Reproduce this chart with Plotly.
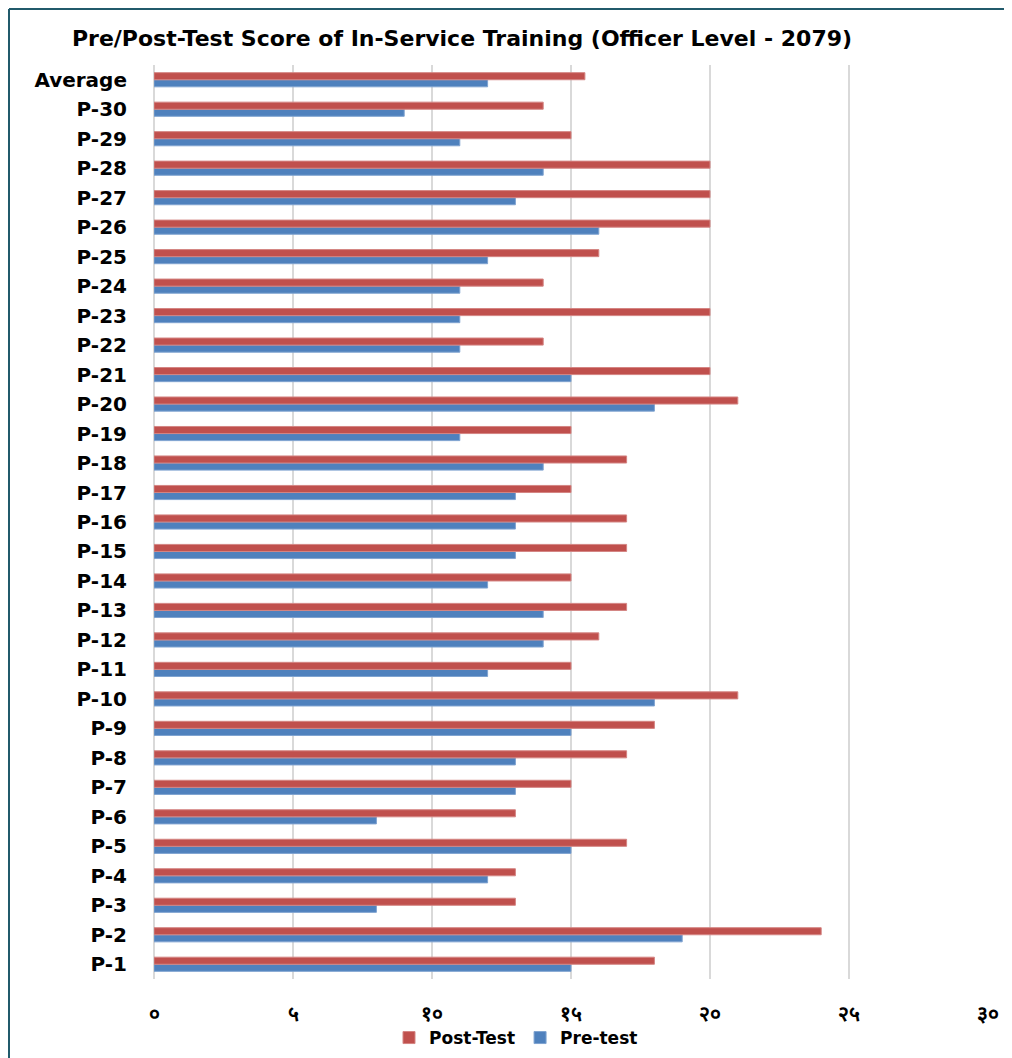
import plotly.graph_objects as go

categories = ["P-1", "P-2", "P-3", "P-4", "P-5", "P-6", "P-7", "P-8", "P-9", "P-10",
              "P-11", "P-12", "P-13", "P-14", "P-15", "P-16", "P-17", "P-18", "P-19", "P-20",
              "P-21", "P-22", "P-23", "P-24", "P-25", "P-26", "P-27", "P-28", "P-29", "P-30",
              "Average"]
post_test = [18, 24, 13, 13, 17, 13, 15, 17, 18, 21,
             15, 16, 17, 15, 17, 17, 15, 17, 15, 21,
             20, 14, 20, 14, 16, 20, 20, 20, 15, 14,
             15.5]
pre_test = [15, 19, 8, 12, 15, 8, 13, 13, 15, 18,
            12, 14, 14, 12, 13, 13, 13, 14, 11, 18,
            15, 11, 11, 11, 12, 16, 13, 14, 11, 9,
            12]
tick_vals = [0, 5, 10, 15, 20, 25, 30]
tick_text = ["०", "५", "१०", "१५", "२०", "२५", "३०"]

# page has an 8px body margin; work in page pixels and shift
OFF = 8
W, H = 1012 - OFF, 1058 - OFF
PL, PR, PT, PB = 154, 988, 65, 979          # plot area in page pixels
L, R, T, B = PL - OFF, W - (PR - OFF), PT - OFF, H - (PB - OFF)
pw, ph = W - L - R, H - T - B

def px(x):
    return (x - OFF - L) / pw

def py(y):
    return (H - B - (y - OFF)) / ph

FONT = "DejaVu Sans, Verdana, sans-serif"

fig = go.Figure()
fig.add_trace(go.Bar(
    y=categories, x=pre_test, name="Pre-test", orientation="h",
    marker=dict(color="#4F81BD", line=dict(color="#7FA3D0", width=1)),
    legendrank=2,
))
fig.add_trace(go.Bar(
    y=categories, x=post_test, name="Post-Test", orientation="h",
    marker=dict(color="#C0504D", line=dict(color="#D48583", width=1)),
    legendrank=1,
))

border = "#215A6B"
fig.update_layout(
    width=W, height=H,
    margin=dict(l=L, r=R, t=T, b=B, autoexpand=False),
    paper_bgcolor="white", plot_bgcolor="white",
    barmode="group", bargap=0.52, bargroupgap=0,
    title=dict(text="<b>Pre/Post-Test Score of In-Service Training (Officer Level - 2079)</b>",
               x=(462 - OFF) / W, xanchor="center", xref="container",
               y=1 - (38 - OFF) / H, yanchor="middle", yref="container",
               font=dict(family=FONT, size=22, color="#000000")),
    font=dict(family=FONT, color="#000000"),
    xaxis=dict(range=[0, 30], tickvals=tick_vals, ticktext=tick_text,
               showgrid=True, gridcolor="#D9D9D9", gridwidth=2,
               zeroline=True, zerolinecolor="#D9D9D9", zerolinewidth=2,
               showline=False, ticks="", ticklabelstandoff=20,
               tickfont=dict(size=21, color="#000000", weight="bold")),
    yaxis=dict(categoryorder="array", categoryarray=categories, type="category",
               showgrid=False, showline=False, ticks="", ticklabelstandoff=26,
               tickfont=dict(size=20, color="#000000", weight="bold")),
    legend=dict(orientation="h", x=(516 - OFF) / W, xanchor="center", xref="container",
                y=1 - (1038 - OFF) / H, yanchor="middle", yref="container",
                font=dict(family=FONT, size=17, color="#000000", weight="bold"),
                itemwidth=30, bgcolor="rgba(0,0,0,0)"),
    shapes=[
        dict(type="line", xref="paper", yref="paper", x0=px(9), x1=px(9), y0=py(9), y1=py(1058),
             line=dict(color=border, width=2)),
        dict(type="line", xref="paper", yref="paper", x0=px(9), x1=px(1012), y0=py(9), y1=py(9),
             line=dict(color=border, width=2)),
    ],
)

fig.write_html("out.html")
